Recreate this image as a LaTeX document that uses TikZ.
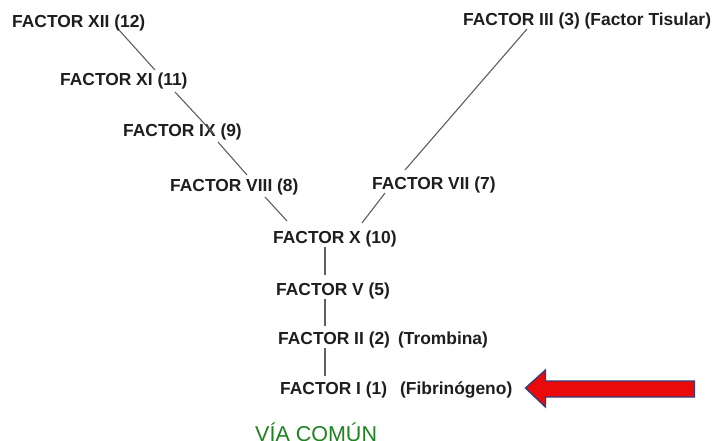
\documentclass[tikz,border=0pt]{standalone}
\usepackage{fontspec}
\setmainfont{Liberation Sans}
\definecolor{texto}{RGB}{30,30,30}
\definecolor{linea}{RGB}{95,95,95}
\definecolor{verde}{RGB}{30,130,30}
\definecolor{rojo}{RGB}{235,10,10}
\definecolor{borde}{RGB}{55,60,120}
\tikzset{
  factor/.style={anchor=base west, inner sep=0pt, text=texto,
    font=\fontsize{17.4}{20}\selectfont\bfseries},
  enlace/.style={draw=linea, line width=1.1pt},
  via/.style={anchor=base west, inner sep=0pt, text=verde,
    font=\fontsize{21.5}{24}\selectfont},
  flecha/.style={fill=rojo, draw=borde, line width=1.4pt, line join=miter}
}
\begin{document}
\begin{tikzpicture}[x=1pt,y=-1pt]
\useasboundingbox (0,0) rectangle (727,441);
\fill[white] (0,0) rectangle (727,441);

% factor labels
\node[factor] (xii)  at (12,28)  {FACTOR XII (12)};
\node[factor] (xi)   at (60,86)  {FACTOR XI (11)};
\node[factor] (ix)   at (123,136) {FACTOR IX (9)};
\node[factor] (viii) at (170,191) {FACTOR VIII (8)};
\node[factor] (iii)  at (463,26) {FACTOR III (3) (Factor Tisular)};
\node[factor] (vii)  at (372,189) {FACTOR VII (7)};
\node[factor] (x)    at (273,243) {FACTOR X (10)};
\node[factor] (v)    at (276,295) {FACTOR V (5)};
\node[factor] (ii)   at (278,344) {FACTOR II (2)\hspace{8pt}(Trombina)};
\node[factor] (i)    at (280,394) {FACTOR I (1)\hspace{13pt}(Fibrinógeno)};
\node[via] (comun) at (255,441) {VÍA COMÚN};

% intrinsic branch
\draw[enlace] ([xshift=107pt,yshift=-2pt]xii.base west) -- ([xshift=95pt,yshift=16pt]xi.base west);
\draw[enlace] ([xshift=115pt,yshift=-6pt]xi.base west) -- ([xshift=91pt,yshift=2pt]ix.base west);
\draw[enlace] ([xshift=95pt,yshift=-6pt]ix.base west) -- ([xshift=77pt,yshift=16pt]viii.base west);
\draw[enlace] ([xshift=95pt,yshift=-6pt]viii.base west) -- ([xshift=14pt,yshift=22pt]x.base west);

% extrinsic branch
\draw[enlace] ([xshift=64pt,yshift=-3pt]iii.base west) -- ([xshift=33pt,yshift=19pt]vii.base west);
\draw[enlace] ([xshift=13pt,yshift=-4pt]vii.base west) -- ([xshift=89pt,yshift=20pt]x.base west);

% common pathway
\draw[enlace] ([xshift=52pt,yshift=-4pt]x.base west) -- ([xshift=49pt,yshift=20pt]v.base west);
\draw[enlace] ([xshift=49pt,yshift=-4pt]v.base west) -- ([xshift=47pt,yshift=18pt]ii.base west);
\draw[enlace] ([xshift=47pt,yshift=-4pt]ii.base west) -- ([xshift=45pt,yshift=18pt]i.base west);

% red arrow pointing at fibrinogen
\coordinate (punta) at ([xshift=13pt,yshift=6pt]i.base east);
\draw[flecha] (punta) -- ++(20,-18) -- ++(0,11) -- ++(149,0) -- ++(0,16)
  -- ++(-149,0) -- ++(0,10) -- cycle;
\end{tikzpicture}
\end{document}
